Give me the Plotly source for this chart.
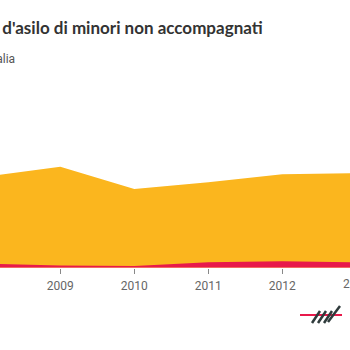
import plotly.graph_objects as go

# Annual values (units per year)
years = [2008, 2009, 2010, 2011, 2012, 2013]
totale = [11390, 12625, 9840, 10690, 11675, 11810]
italia = [505, 275, 210, 675, 800, 660]
tick_years = [2009, 2010, 2011, 2012]
tick_labels = ["2009", "2010", "2011", "2012"]

title_text = "Richieste d'asilo di minori non accompagnati"
subtitle_text = "Italia"

W, H = 350, 350
YELLOW = "#FBB61E"
RED = "#E8194B"

fig = go.Figure()
fig.add_trace(go.Scatter(
    x=years, y=totale, mode="lines", fill="tozeroy",
    line=dict(width=0, color=YELLOW), fillcolor=YELLOW,
    hoverinfo="skip", showlegend=False,
))
fig.add_trace(go.Scatter(
    x=years, y=italia, mode="lines", fill="tozeroy",
    line=dict(width=0, color=RED), fillcolor=RED,
    hoverinfo="skip", showlegend=False,
))

def px(x):
    return x / W

def py(y):
    return 1 - y / H

plot_bottom = 267.7
y_domain_bottom = 1 - plot_bottom / H
px_per_unit = 8 / 1000.0
y_max = plot_bottom / px_per_unit

# year -> pixel mapping: 74 px per year, 2009 at x=60.3
x0 = 2009 - 60.3 / 74
x1 = 2009 + (W - 60.3) / 74

annotations = [
    dict(text=title_text, x=px(265), y=py(28), xref="paper", yref="paper",
         xanchor="right", yanchor="middle", showarrow=False,
         font=dict(family="Lato", size=17, color="#333333", weight=700)),
    dict(text=subtitle_text, x=px(16.5), y=py(59), xref="paper", yref="paper",
         xanchor="right", yanchor="middle", showarrow=False,
         font=dict(family="Roboto", size=12, color="#555555")),
    dict(text="2013", x=px(60.3 + 4 * 74), y=py(284), xref="paper", yref="paper",
         xanchor="center", yanchor="middle", showarrow=False,
         font=dict(family="Roboto", size=12, color="#666666")),
]

# logo mark at the bottom right
shapes = [
    dict(type="line", xref="paper", yref="paper",
         x0=px(300), x1=px(342), y0=py(315), y1=py(315),
         line=dict(color=RED, width=2)),
]
for (a, b, c, d) in [(312, 323, 320, 311), (318, 323, 326, 311),
                     (324, 323, 332, 311), (328, 322, 340, 306)]:
    shapes.append(dict(type="line", xref="paper", yref="paper",
                       x0=px(a), y0=py(b), x1=px(c), y1=py(d),
                       line=dict(color="#2F3B3C", width=2.5)))

fig.update_layout(
    width=W, height=H,
    margin=dict(l=0, r=0, t=0, b=0),
    paper_bgcolor="white", plot_bgcolor="white",
    xaxis=dict(range=[x0, x1], domain=[0, 1],
               tickvals=tick_years, ticktext=tick_labels,
               ticks="outside", ticklen=5, tickwidth=1, tickcolor="#888888",
               ticklabelstandoff=2,
               showgrid=False, zeroline=False, showline=False,
               tickfont=dict(family="Roboto", size=12, color="#666666"),
               fixedrange=True),
    yaxis=dict(range=[0, y_max], domain=[y_domain_bottom, 1],
               visible=False, showgrid=False, zeroline=False, fixedrange=True),
    annotations=annotations,
    shapes=shapes,
)

fig.write_html("out.html")
